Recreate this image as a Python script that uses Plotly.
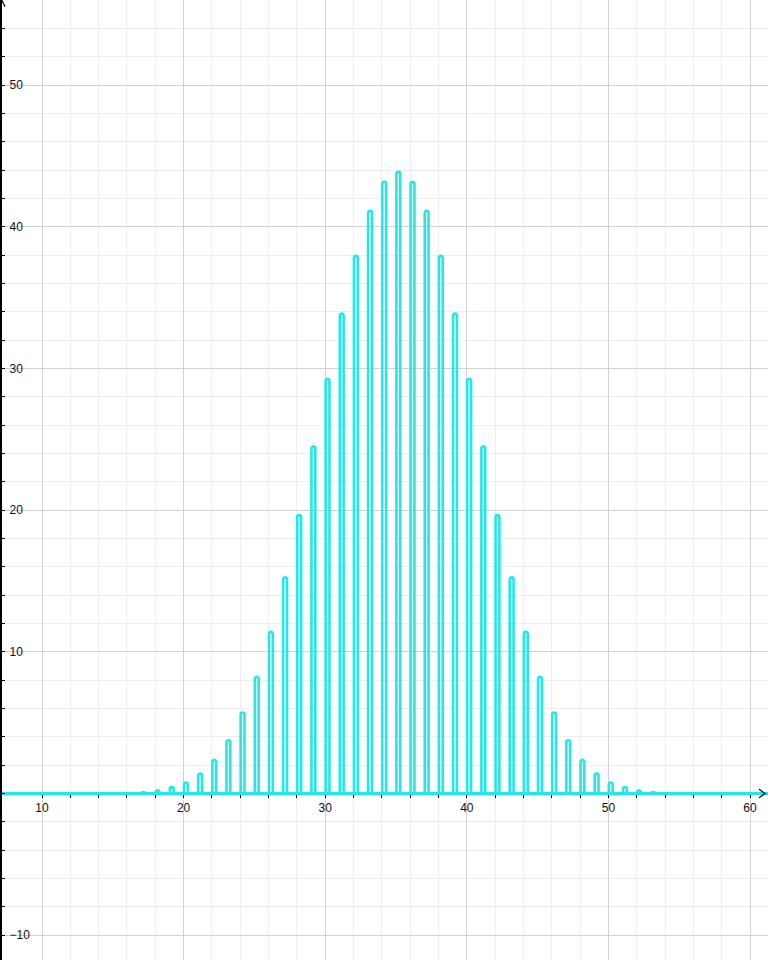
import plotly.graph_objects as go

# ---- data ----
positions = list(range(16, 55))
heights = [
    0.03, 0.08, 0.22, 0.45, 0.78, 1.40, 2.37, 3.76, 5.71, 8.23,
    11.41, 15.25, 19.66, 24.50, 29.27, 33.87, 37.94, 41.12, 43.17, 43.87,
    43.17, 41.12, 37.94, 33.87, 29.27, 24.50, 19.66, 15.25, 11.41, 8.23,
    5.71, 3.76, 2.37, 1.40, 0.78, 0.45, 0.22, 0.08, 0.03,
]
x_tick_vals = [10, 20, 30, 40, 50, 60]
y_tick_vals = [-10, 10, 20, 30, 40, 50]

X_RANGE = [7.175, 61.27]
Y_RANGE = [-11.75, 56.0]

CYAN = "#22e8e8"
MAJOR_GRID = "#d2d2d2"
MINOR_GRID = "#eeeeee"
FONT = dict(family="Liberation Sans, Arial, sans-serif", size=12, color="#111111")

fig = go.Figure(
    go.Bar(
        x=positions,
        y=heights,
        offset=0.03,
        width=0.27,
        marker=dict(color="rgba(0,0,0,0)", line=dict(color=CYAN, width=2.6), cornerradius=2),
        hoverinfo="x+y",
    )
)

x_axis_pos = (0 - Y_RANGE[0]) / (Y_RANGE[1] - Y_RANGE[0])

fig.update_layout(
    width=768,
    height=960,
    margin=dict(l=2, r=0, t=0, b=0),
    paper_bgcolor="white",
    plot_bgcolor="white",
    showlegend=False,
    font=FONT,
    xaxis=dict(
        range=X_RANGE,
        tickmode="array",
        tickvals=x_tick_vals,
        ticks="outside",
        ticklen=3,
        tickcolor="black",
        showgrid=True,
        gridcolor=MAJOR_GRID,
        gridwidth=1,
        minor=dict(dtick=2, tick0=0, showgrid=True, gridcolor=MINOR_GRID,
                   ticks="outside", ticklen=3, tickcolor="black"),
        zeroline=False,
        showline=False,
        anchor="free",
        position=x_axis_pos,
        layer="below traces",
        tickfont=FONT,
        fixedrange=True,
    ),
    yaxis=dict(
        range=Y_RANGE,
        tickmode="array",
        tickvals=y_tick_vals,
        ticks="inside",
        ticklen=3,
        tickcolor="black",
        ticklabelposition="inside",
        ticklabelstandoff=4,
        showgrid=True,
        gridcolor=MAJOR_GRID,
        gridwidth=1,
        minor=dict(dtick=2, tick0=0, showgrid=True, gridcolor=MINOR_GRID,
                   ticks="inside", ticklen=3, tickcolor="black"),
        zeroline=True,
        zerolinecolor=CYAN,
        zerolinewidth=2.6,
        showline=True,
        linecolor="black",
        linewidth=2,
        layer="below traces",
        tickfont=FONT,
        fixedrange=True,
    ),
    shapes=[
        # arrowhead at right end of x axis
        dict(type="path", xref="paper", yref="y",
             path="M 0.9883,0.3 L 0.9961,0 L 0.9883,-0.3",
             line=dict(color="black", width=1.2)),
        # arrowhead at top of y axis
        dict(type="path", xref="paper", yref="paper",
             path="M -0.004,0.993 L 0.0,0.9995 L 0.004,0.993",
             line=dict(color="black", width=1.2)),
    ],
)

fig.write_html(
    "out.html",
    config={"displayModeBar": False},
    post_script="document.body.style.margin='0';document.body.style.overflow='hidden';",
)
